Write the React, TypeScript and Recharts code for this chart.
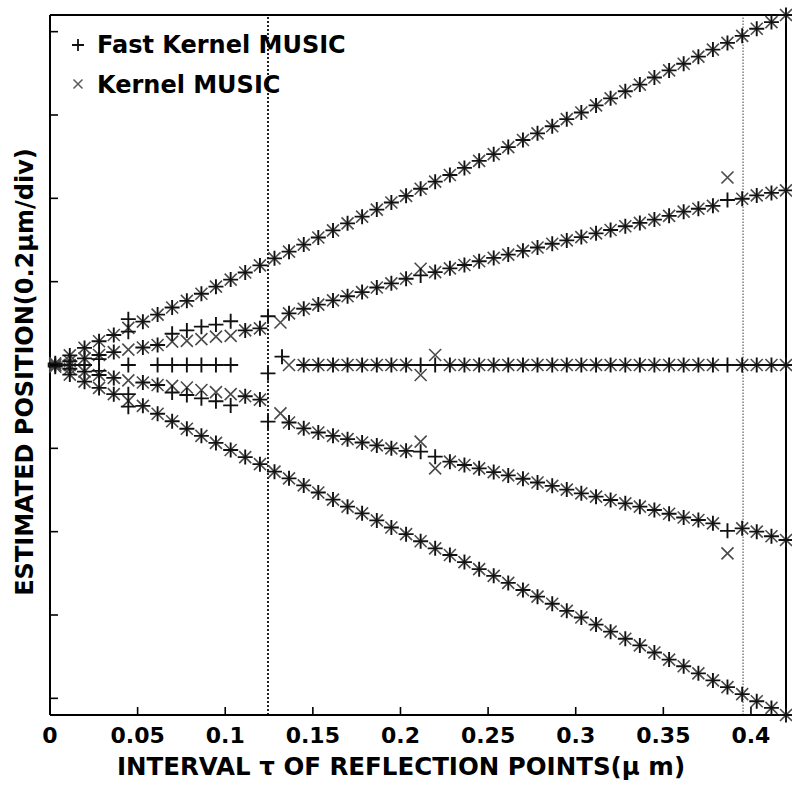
import React from "react";
import { ScatterChart, Scatter, XAxis, YAxis, ReferenceLine } from "recharts";

// sampling grid of the interval tau (um)
const TAU = [
  0.003, 0.0113, 0.0197, 0.028, 0.0364, 0.0447, 0.053, 0.0614, 0.0697, 0.0781,
  0.0864, 0.0947, 0.1031, 0.1114, 0.1198, 0.1281, 0.1364, 0.1448, 0.1531, 0.1615,
  0.1698, 0.1781, 0.1865, 0.1948, 0.2032, 0.2115, 0.2198, 0.2282, 0.2365, 0.2449,
  0.2532, 0.2615, 0.2699, 0.2782, 0.2866, 0.2949, 0.3032, 0.3116, 0.3199, 0.3283,
  0.3366, 0.3449, 0.3533, 0.3616, 0.37, 0.3783, 0.3866, 0.395, 0.4033, 0.4117, 0.42,
];

// estimates where both methods agree (null = they differ or nothing found)
const TOP = [
  0.004, 0.023, 0.041, 0.057, 0.072, null, 0.104, 0.121, 0.138, 0.154,
  0.171, 0.188, 0.205, 0.222, 0.239, 0.256, 0.272, 0.289, 0.306, 0.323,
  0.34, 0.356, 0.373, 0.39, 0.406, 0.423, 0.44, 0.456, 0.473, 0.49,
  0.506, 0.523, 0.54, 0.556, 0.573, 0.59, 0.606, 0.623, 0.64, 0.657,
  0.673, 0.69, 0.707, 0.723, 0.74, 0.757, 0.773, 0.79, 0.807, 0.823, 0.84,
];
const UPPER = [
  null, 0.009, 0.016, 0.024, 0.031, null, 0.042, 0.048, null, null,
  null, null, null, 0.083, 0.088, null, 0.124, 0.135, 0.145, 0.155,
  0.165, 0.175, 0.186, 0.196, 0.207, null, 0.223, 0.232, 0.24, 0.249,
  0.257, 0.265, 0.274, 0.282, 0.291, 0.299, 0.307, 0.316, 0.324, 0.333,
  0.341, 0.349, 0.358, 0.368, 0.375, 0.382, null, 0.399, 0.407, 0.413, 0.419,
];
const MIDDLE = [
  0, null, null, null, null, null, null, null, null, null,
  null, null, null, null, null, null, null, 0, 0, 0,
  0, 0, 0, 0, 0, null, null, 0, 0, 0,
  0, 0, 0, 0, 0, 0, 0, 0, 0, 0,
  0, 0, 0, 0, 0, 0, null, 0, 0, 0, 0,
];
const LOWER = [
  null, -0.009, -0.016, -0.024, -0.031, null, -0.042, -0.048, null, null,
  null, null, null, -0.075, -0.083, null, -0.138, -0.152, -0.162, -0.17,
  -0.178, -0.186, -0.193, -0.2, -0.206, null, null, -0.232, -0.24, -0.248,
  -0.257, -0.265, -0.273, -0.282, -0.29, -0.299, -0.308, -0.316, -0.324, -0.332,
  -0.34, -0.348, -0.357, -0.366, -0.372, -0.38, null, -0.392, -0.4, -0.411, -0.42,
];
const BOTTOM = [
  -0.004, -0.023, -0.04, -0.055, -0.07, null, -0.098, -0.117, -0.135, -0.153,
  -0.17, -0.187, -0.204, -0.221, -0.238, -0.256, -0.272, -0.289, -0.306, -0.323,
  -0.34, -0.356, -0.373, -0.39, -0.406, -0.423, -0.44, -0.456, -0.473, -0.49,
  -0.506, -0.523, -0.54, -0.556, -0.573, -0.59, -0.606, -0.623, -0.64, -0.657,
  -0.673, -0.69, -0.707, -0.723, -0.74, -0.757, -0.773, -0.79, -0.807, -0.823, -0.84,
];

// points only one method produced  [tau, position]
const FAST_ONLY: [number, number][] = [
  [0.0447, 0.11], [0.0447, 0.08], [0.0447, -0.07], [0.0447, -0.1],
  [0.0113, 0], [0.0197, 0], [0.028, 0.014], [0.028, -0.014], [0.0447, 0],
  [0.0614, 0], [0.0697, 0], [0.0781, 0], [0.0864, 0], [0.0947, 0], [0.1031, 0],
  [0.0697, 0.075], [0.0781, 0.083], [0.0864, 0.092], [0.0947, 0.097], [0.1031, 0.105],
  [0.0697, -0.066], [0.0781, -0.072], [0.0864, -0.08], [0.0947, -0.087], [0.1031, -0.097],
  [0.1244, 0.117], [0.1244, -0.02], [0.1244, -0.136], [0.1324, 0.02],
  [0.2115, 0.215], [0.2115, 0], [0.2115, -0.208],
  [0.2198, 0], [0.2198, -0.22],
  [0.3866, 0.396], [0.3866, 0], [0.3866, -0.398],
];
const KERNEL_ONLY: [number, number][] = [
  [0.0447, 0.089], [0.0447, 0.037], [0.0447, -0.037], [0.0447, -0.086],
  [0.0113, 0],
  [0.0697, 0.056], [0.0781, 0.058], [0.0864, 0.062], [0.0947, 0.068], [0.1031, 0.07],
  [0.0697, -0.05], [0.0781, -0.054], [0.0864, -0.06], [0.0947, -0.065], [0.1031, -0.07],
  [0.1315, 0.102], [0.1315, -0.116], [0.1364, 0],
  [0.2115, 0.231], [0.2115, -0.024], [0.2115, -0.184],
  [0.2198, 0.024], [0.2198, -0.248],
  [0.3866, 0.45], [0.3866, -0.452],
];

const X_TICKS = [0, 0.05, 0.1, 0.15, 0.2, 0.25, 0.3, 0.35, 0.4];
const Y_TICKS = [-0.8, -0.6, -0.4, -0.2, 0, 0.2, 0.4, 0.6, 0.8];
const LIMITS = [0.1244, 0.3955];

const FONT = "'DejaVu Sans', sans-serif";

const toPoints = (vals: (number | null)[]) =>
  vals.flatMap((y, i) => (y === null ? [] : [{ x: TAU[i], y }]));
const shared = [TOP, UPPER, MIDDLE, LOWER, BOTTOM].flatMap(toPoints);
const fastData = [...shared, ...FAST_ONLY.map(([x, y]) => ({ x, y }))];
const kernelData = [...shared, ...KERNEL_ONLY.map(([x, y]) => ({ x, y }))];

const Plus = (props: any) => {
  const { cx, cy } = props;
  const s = 7.5;
  return <path d={`M${cx - s},${cy}H${cx + s}M${cx},${cy - s}V${cy + s}`} stroke="#111" strokeWidth={1.9} fill="none" />;
};

const Cross = (props: any) => {
  const { cx, cy } = props;
  const s = 6;
  return (
    <path
      d={`M${cx - s},${cy - s}L${cx + s},${cy + s}M${cx - s},${cy + s}L${cx + s},${cy - s}`}
      stroke="#4a4a4a"
      strokeWidth={1.6}
      fill="none"
    />
  );
};

// inward tick marks, drawn from the axis position handed over by recharts
const TICK = 8;
const BottomTick = (p: any) => (
  <g>
    <line x1={p.x} y1={p.y} x2={p.x} y2={p.y - TICK} stroke="#000" strokeWidth={1.6} />
    <text x={p.x} y={p.y + 28} textAnchor="middle" fontFamily={FONT} fontWeight="bold" fontSize={22} fill="#000">
      {p.payload.value}
    </text>
  </g>
);
const TopTick = (p: any) => <line x1={p.x} y1={p.y} x2={p.x} y2={p.y + TICK} stroke="#000" strokeWidth={1.6} />;
const LeftTick = (p: any) => <line x1={p.x} y1={p.y} x2={p.x + TICK} y2={p.y} stroke="#000" strokeWidth={1.6} />;
const RightTick = (p: any) => <line x1={p.x} y1={p.y} x2={p.x - TICK} y2={p.y} stroke="#000" strokeWidth={1.6} />;

const frame = { stroke: "#000", strokeWidth: 2 };

export default function App() {
  return (
    <div style={{ position: "relative", width: 792, height: 785, background: "#fff" }}>
      <style>{`body{margin:0}`}</style>
      <ScatterChart width={792} height={785} margin={{ top: 14, right: 5, bottom: 0, left: 0 }}>
        <XAxis
          type="number"
          dataKey="x"
          domain={[0, 0.42]}
          ticks={X_TICKS}
          interval={0}
          height={70}
          tickSize={0}
          tickMargin={0}
          axisLine={frame}
          tickLine={false}
          tick={BottomTick}
          label={{
            content: () => (
              <text x={401} y={775} textAnchor="middle" fontFamily={FONT} fontWeight="bold" fontSize={24.5} fill="#000">
                INTERVAL τ OF REFLECTION POINTS(µ m)
              </text>
            ),
          }}
        />
        <XAxis
          xAxisId="top"
          orientation="top"
          type="number"
          dataKey="x"
          domain={[0, 0.42]}
          ticks={X_TICKS}
          interval={0}
          height={1}
          tickSize={0}
          tickMargin={0}
          axisLine={frame}
          tickLine={false}
          tick={TopTick}
        />
        <YAxis
          type="number"
          dataKey="y"
          domain={[-0.84, 0.84]}
          ticks={Y_TICKS}
          interval={0}
          width={50}
          tickSize={0}
          tickMargin={0}
          axisLine={frame}
          tickLine={false}
          tick={LeftTick}
          label={{
            content: () => (
              <text
                x={33}
                y={372}
                transform="rotate(-90 33 372)"
                textAnchor="middle"
                fontFamily={FONT}
                fontWeight="bold"
                fontSize={24}
                fill="#000"
              >
                ESTIMATED POSITION(0.2µm/div)
              </text>
            ),
          }}
        />
        <YAxis
          yAxisId="right"
          orientation="right"
          type="number"
          dataKey="y"
          domain={[-0.84, 0.84]}
          ticks={Y_TICKS}
          interval={0}
          width={1}
          tickSize={0}
          tickMargin={0}
          axisLine={frame}
          tickLine={false}
          tick={RightTick}
        />
        <ReferenceLine x={LIMITS[0]} stroke="#222" strokeWidth={2} strokeDasharray="2 2" />
        <ReferenceLine x={LIMITS[1]} stroke="#888" strokeWidth={1.6} strokeDasharray="1.5 1.5" />
        <Scatter name="Kernel MUSIC" data={kernelData} shape={Cross} isAnimationActive={false} />
        <Scatter name="Fast Kernel MUSIC" data={fastData} shape={Plus} isAnimationActive={false} />
      </ScatterChart>
      <svg width={400} height={110} style={{ position: "absolute", left: 0, top: 0, pointerEvents: "none" }}>
        <path d="M72,45H84M78,39V51" stroke="#111" strokeWidth={1.8} />
        <text x={97} y={53} fontFamily={FONT} fontWeight="bold" fontSize={24} fill="#000">
          Fast Kernel MUSIC
        </text>
        <path d="M73.5,79.5L82.5,88.5M73.5,88.5L82.5,79.5" stroke="#5a5a5a" strokeWidth={1.5} />
        <text x={97} y={93} fontFamily={FONT} fontWeight="bold" fontSize={24} fill="#000">
          Kernel MUSIC
        </text>
      </svg>
    </div>
  );
}
